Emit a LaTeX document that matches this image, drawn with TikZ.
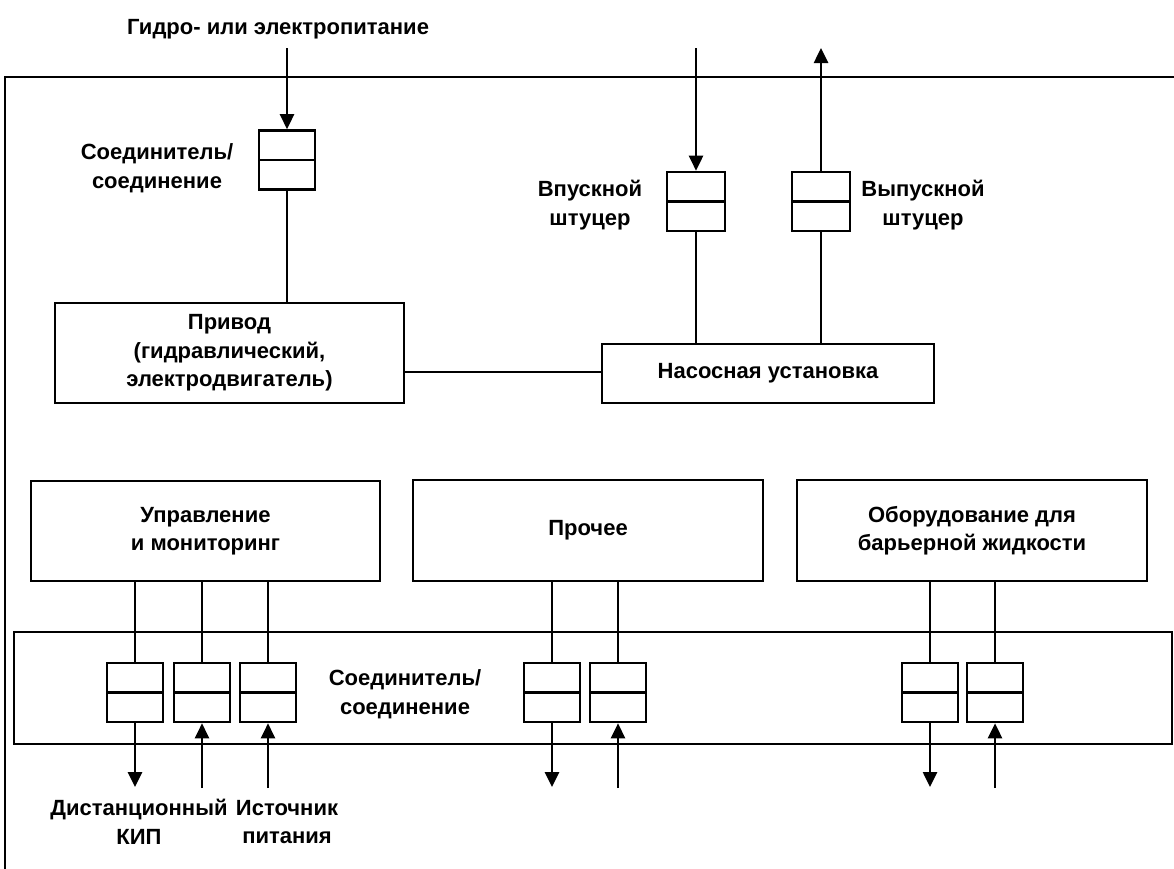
\documentclass[tikz,border=0pt]{standalone}
\usepackage{fontspec}
\setmainfont{Liberation Sans}
\usetikzlibrary{arrows.meta}
\begin{document}
\begin{tikzpicture}[x=1pt,y=-1pt,
  every node/.style={font=\fontsize{22}{28.5}\selectfont\bfseries},
  ln/.style={line width=2.6pt},
  blk/.style={draw,line width=2.6pt,inner sep=0pt,align=center},
  conn/.style={draw,line width=2.6pt,minimum width=56pt,minimum height=59pt,inner sep=0pt,
     path picture={\draw[line width=2.6pt] (path picture bounding box.west) -- (path picture bounding box.east);}},
  arr/.style={line width=2.6pt,-{Triangle[length=15pt,width=14pt]}},
  lbl/.style={align=center,inner sep=0pt}]
\useasboundingbox (0,0) rectangle (1174,868);
% outer frame
\draw[ln] (5,870) -- (5,77) -- (1176,77);
% top section
\node[lbl] (title) at (278,29) {Гидро- или электропитание};
\node[conn] (c0) at (287,160) {};
\coordinate (c0in) at (287,48);
\draw[arr] (c0in) -- (c0.north);
\node[lbl] (c0l) at (157,168) {Соединитель/\\соединение};
\node[blk,minimum width=349pt,minimum height=100pt] (priv) at (229.5,353) {Привод\\(гидравлический,\\электродвигатель)};
\draw[ln] (c0.south) -- (c0.south |- priv.north);
\node[blk,minimum width=332pt,minimum height=59pt] (pump) at (768,373.5) {Насосная установка};
\draw[ln] ([yshift=-19pt]priv.east) -- ([yshift=-19pt]priv.east -| pump.west);
\node[conn,minimum width=58pt] (cin) at (696,201.5) {};
\node[conn,minimum width=58pt] (cout) at (821,201.5) {};
\coordinate (inTop) at (696,48);
\coordinate (outTop) at (821,48);
\draw[arr] (inTop) -- (cin.north);
\draw[arr] (cout.north) -- (outTop);
\draw[ln] (cin.south) -- (cin.south |- pump.north);
\draw[ln] (cout.south) -- (cout.south |- pump.north);
\node[lbl] (inl) at (590,205) {Впускной\\штуцер};
\node[lbl] (outl) at (923,205) {Выпускной\\штуцер};
% bottom section
\node[blk,minimum width=349pt,minimum height=100pt] (ctrl) at (205.5,531) {Управление\\и мониторинг};
\node[blk,minimum width=350pt,minimum height=101pt] (other) at (588,530.5) {Прочее};
\node[blk,minimum width=350pt,minimum height=101pt] (barr) at (972,530.5) {Оборудование для\\барьерной жидкости};
\node[blk,minimum width=1158pt,minimum height=112pt] (cbar) at (593,688) {};
\node[lbl] (cbarl) at (405,694) {Соединитель/\\соединение};
\foreach \n/\x in {b1/135,b2/202,b3/268,b4/552,b5/618,b6/930,b7/995}{
  \node[conn] (\n) at (\x,692.5) {};
}
\draw[ln] (b1.north) -- (b1.north |- ctrl.south);
\draw[ln] (b2.north) -- (b2.north |- ctrl.south);
\draw[ln] (b3.north) -- (b3.north |- ctrl.south);
\draw[ln] (b4.north) -- (b4.north |- other.south);
\draw[ln] (b5.north) -- (b5.north |- other.south);
\draw[ln] (b6.north) -- (b6.north |- barr.south);
\draw[ln] (b7.north) -- (b7.north |- barr.south);
\coordinate (b1e) at (135,787);
\coordinate (b2s) at (202,788);
\coordinate (b3s) at (268,788);
\coordinate (b4e) at (552,787);
\coordinate (b5s) at (618,788);
\coordinate (b6e) at (930,787);
\coordinate (b7s) at (995,788);
\draw[arr] (b1.south) -- (b1e);
\draw[arr] (b2s) -- (b2.south);
\draw[arr] (b3s) -- (b3.south);
\draw[arr] (b4.south) -- (b4e);
\draw[arr] (b5s) -- (b5.south);
\draw[arr] (b6.south) -- (b6e);
\draw[arr] (b7s) -- (b7.south);
\node[lbl] (kip) at (139,822) {Дистанционный\\КИП};
\node[lbl] (pwr) at (287,822) {Источник\\питания};
\end{tikzpicture}
\end{document}
